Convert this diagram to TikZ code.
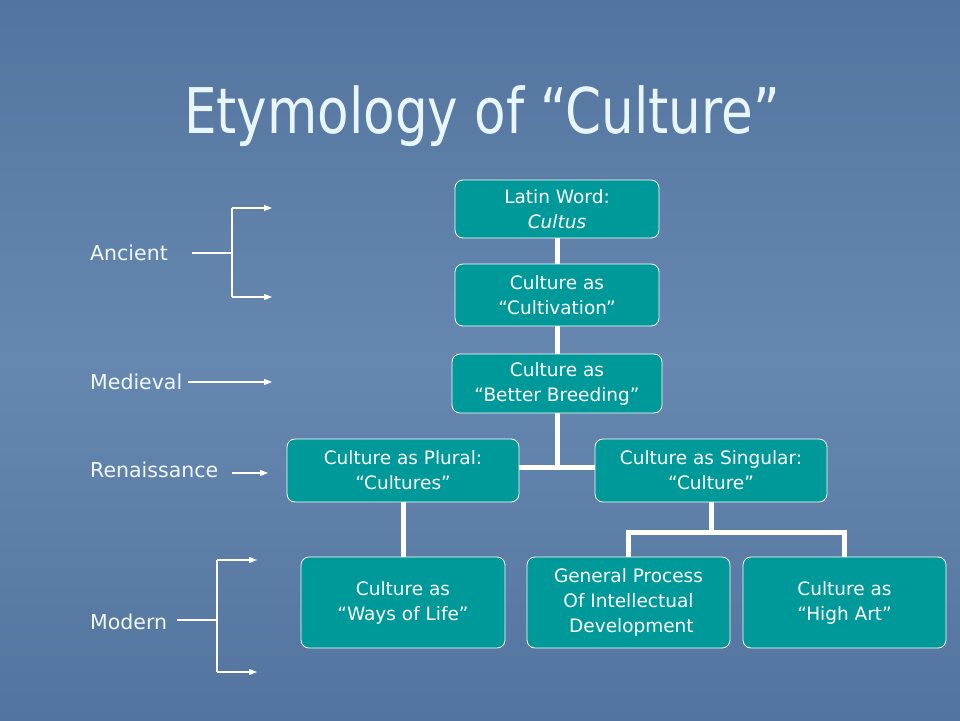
\documentclass[tikz,border=0pt]{standalone}
\usepackage{fontspec}
\setmainfont{DejaVu Sans}
\newfontfamily\condfont{DejaVu Sans Condensed}
\usetikzlibrary{arrows.meta}
\definecolor{bgblue}{RGB}{82,116,158}
\definecolor{bglight}{RGB}{102,136,176}
\definecolor{boxteal}{RGB}{0,153,153}
\definecolor{titlecol}{RGB}{232,246,255}
\definecolor{labcol}{RGB}{240,248,255}
\tikzset{
  box/.style={draw=white, line width=0.8pt, fill=boxteal, rounded corners=8pt,
    text=white, align=center, inner sep=0pt, font=\fontsize{18.5}{25}\selectfont},
  link/.style={draw=white, line width=5pt},
  era/.style={text=labcol, anchor=west, inner sep=0pt, font=\fontsize{20.5}{24}\selectfont},
  thin/.style={draw=white, line width=1.1pt},
  arr/.style={thin, -{Triangle[length=8pt,width=6pt]}}
}
\begin{document}
\begin{tikzpicture}[x=1pt,y=-1pt]
\useasboundingbox (0,0) rectangle (960,720);
\shade[top color=bgblue, bottom color=bgblue, middle color=bglight] (0,0) rectangle (960,720);
% title
\node (title) [text=titlecol, font=\condfont\fontsize{63}{70}\selectfont] at (482,116) {\scalebox{0.91}[1]{Etymology of “Culture”}};
% connectors
\coordinate (j1) at (557,467);
\coordinate (j2) at (711,532);
\coordinate (n1c) at (557,209);
\coordinate (n2c) at (557,295);
\coordinate (n3c) at (557,383.5);
\coordinate (n4c) at (403,470.5);
\coordinate (n5c) at (711,470.5);
\coordinate (n6c) at (403,602.5);
\coordinate (n7c) at (628.5,602.5);
\coordinate (n8c) at (844.5,602.5);
\draw[link] (n1c) -- (n2c);
\draw[link] (n2c) -- (n3c);
\draw[link] (n3c) -- (j1);
\draw[link] (n4c |- j1) -- (n5c |- j1);
\draw[link] (n4c) -- (n6c);
\draw[link] (n5c) -- (j2);
\draw[link] (n7c) -- (n7c |- j2) -- (n8c |- j2) -- (n8c);
% boxes
\node (n1) [box, minimum width=204pt, minimum height=58pt] at (n1c) {Latin Word:\\\textit{Cultus}};
\node (n2) [box, minimum width=204pt, minimum height=62pt] at (n2c) {Culture as\\“Cultivation”};
\node (n3) [box, minimum width=210pt, minimum height=59pt] at (n3c) {Culture as\\“Better Breeding”};
\node (n4) [box, minimum width=232pt, minimum height=63pt] at (n4c) {Culture as Plural:\\“Cultures”};
\node (n5) [box, minimum width=232pt, minimum height=63pt] at (n5c) {Culture as Singular:\\“Culture”};
\node (n6) [box, minimum width=204pt, minimum height=91pt] at (n6c) {Culture as\\“Ways of Life”};
\node (n7) [box, minimum width=203pt, minimum height=91pt] at (n7c) {General Process\\Of Intellectual\\\ Development};
\node (n8) [box, minimum width=203pt, minimum height=91pt] at (n8c) {Culture as\\“High Art”};
% era labels
\node (anc) [era] at (90,253) {Ancient};
\node (med) [era] at (90,382) {Medieval};
\node (ren) [era] at (90,470) {Renaissance};
\node (mod) [era] at (90,622) {Modern};
% ancient bracket
\coordinate (a0) at (192,253);
\coordinate (a1) at (232,253);
\coordinate (a2) at (232,208);
\coordinate (a3) at (232,297);
\coordinate (a4) at (272,208);
\coordinate (a5) at (272,297);
\draw[thin] (a0) -- (a1);
\draw[thin] (a2) -- (a3);
\draw[arr] (a2) -- (a4);
\draw[arr] (a3) -- (a5);
% medieval
\coordinate (m0) at (188,382);
\coordinate (m1) at (272,382);
\draw[arr] (m0) -- (m1);
% renaissance
\coordinate (r0) at (232,473);
\coordinate (r1) at (268,473);
\draw[arr] (r0) -- (r1);
% modern bracket
\coordinate (d0) at (177,620);
\coordinate (d1) at (217,620);
\coordinate (d2) at (217,560);
\coordinate (d3) at (217,672);
\coordinate (d4) at (257,560);
\coordinate (d5) at (257,672);
\draw[thin] (d0) -- (d1);
\draw[thin] (d2) -- (d3);
\draw[arr] (d2) -- (d4);
\draw[arr] (d3) -- (d5);
\end{tikzpicture}
\end{document}
